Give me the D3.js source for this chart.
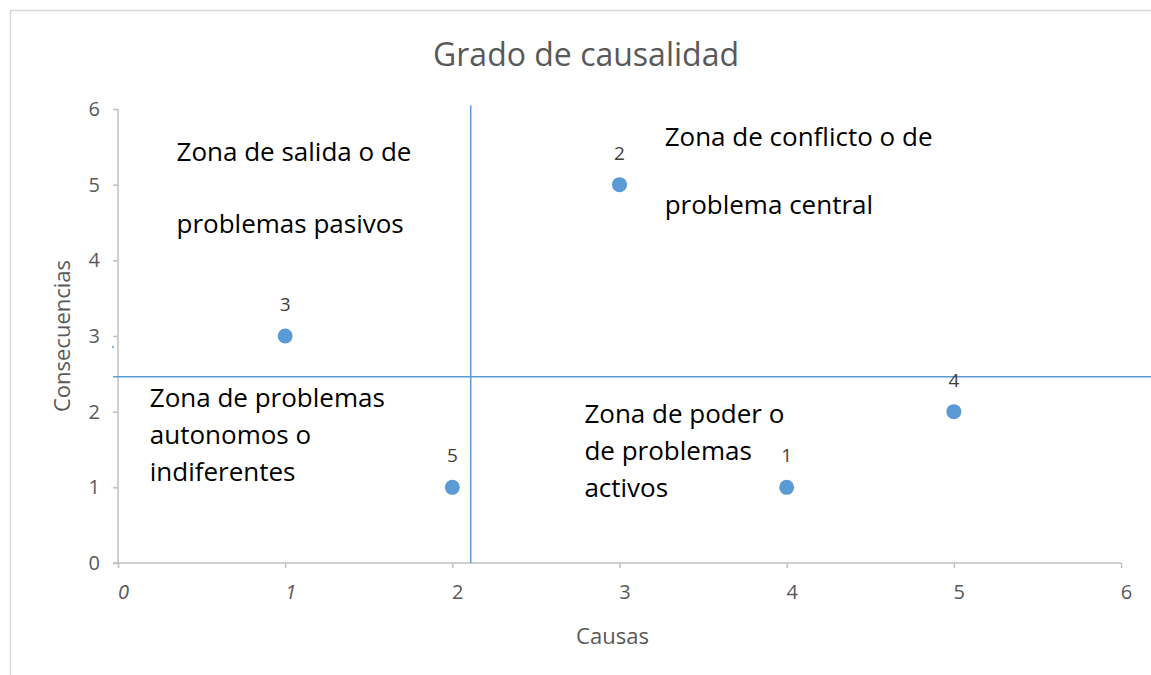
<!DOCTYPE html>
<html>
<head>
<meta charset="utf-8">
<script src="https://cdn.jsdelivr.net/npm/d3@7"></script>
<style>
  body { margin: 0; background: #fff; }
  svg { display: block; }
</style>
</head>
<body>
<script>
// problem points: causas (x), consecuencias (y), label
var causas = [4, 3, 1, 5, 2];
var consecuencias = [1, 5, 3, 2, 1];
var etiquetas = ['1', '2', '3', '4', '5'];
var xTicks = [0, 1, 2, 3, 4, 5, 6];
var yTicks = [0, 1, 2, 3, 4, 5, 6];
var italicTicks = [0, 1];

// quadrant dividers, in data units
var divX = 2.11;
var divY = 2.46;

// zone notes: anchor in data units, lines of text
var zoneX = [0.35, 3.27, 0.19, 2.79];
var zoneY = [5.31, 5.51, 2.06, 1.85];
var zoneText = [
  ['Zona de salida o de', 'problemas pasivos'],
  ['Zona de conflicto o de', 'problema central'],
  ['Zona de problemas', 'autonomos o', 'indiferentes'],
  ['Zona de poder o', 'de problemas', 'activos']
];
var zoneLead = [72, 68, 37, 37];

var screen = { width: 1151, height: 675 };
var margins = { top: 109, bottom: 112, left: 118, right: 30 };

var svg = d3.select('body').append('svg')
            .attr('width', screen.width)
            .attr('height', screen.height);

svg.append('rect')
   .attr('x', 10.5).attr('y', 10.5)
   .attr('width', 1300).attr('height', 800)
   .attr('fill', 'none')
   .attr('stroke', '#d9d9d9')
   .attr('stroke-width', 1.5);

var xScale = d3.scaleLinear()
               .domain([0, 6])
               .range([margins.left, screen.width - margins.right]);
var yScale = d3.scaleLinear()
               .domain([0, 6])
               .range([screen.height - margins.bottom, margins.top]);

var font = "'Open Sans', 'Noto Sans', sans-serif";

// title
svg.append('text')
   .attr('x', 586).attr('y', 66)
   .attr('text-anchor', 'middle')
   .attr('font-family', font)
   .attr('font-size', 32)
   .attr('fill', '#595959')
   .text('Grado de causalidad');

// y axis
var yAxis = d3.axisLeft(yScale).tickValues(yTicks).tickSize(5).tickPadding(13).tickFormat(d3.format('d'));
var gy = svg.append('g')
   .attr('transform', 'translate(' + margins.left + ',0)')
   .call(yAxis);
gy.select('.domain').attr('stroke', '#bfbfbf').attr('stroke-width', 1.5).attr('d', 'M0,' + yScale(6) + 'V' + yScale(0));
gy.selectAll('.tick line').attr('stroke', '#bfbfbf').attr('stroke-width', 1.5);
gy.selectAll('.tick text')
  .attr('font-family', font).attr('font-size', 20).attr('fill', '#595959');

// x axis
var xAxis = d3.axisBottom(xScale).tickValues(xTicks).tickSize(5).tickPadding(17).tickFormat(d3.format('d'));
var gx = svg.append('g')
   .attr('transform', 'translate(0,' + yScale(0) + ')')
   .call(xAxis);
gx.select('.domain').attr('stroke', '#bfbfbf').attr('stroke-width', 1.5).attr('d', 'M' + (xScale(0) - 5) + ',0H' + xScale(6));
gx.selectAll('.tick line').attr('stroke', '#bfbfbf').attr('stroke-width', 1.5);
gx.selectAll('.tick text')
  .attr('font-family', font).attr('font-size', 20).attr('fill', '#595959')
  .attr('dx', 5)
  .attr('font-style', function(d){ return italicTicks.indexOf(d) >= 0 ? 'italic' : 'normal'; });

// axis titles
svg.append('text')
   .attr('transform', 'translate(70,' + yScale(3) + ') rotate(-90)')
   .attr('text-anchor', 'middle')
   .attr('font-family', font).attr('font-size', 22).attr('fill', '#595959')
   .text('Consecuencias');
svg.append('text')
   .attr('x', xScale(3) - 7).attr('y', 644)
   .attr('text-anchor', 'middle')
   .attr('font-family', font).attr('font-size', 22).attr('fill', '#595959')
   .text('Causas');

// dividers
svg.append('line')
   .attr('x1', xScale(divX)).attr('x2', xScale(divX))
   .attr('y1', yScale(6.05)).attr('y2', yScale(0))
   .attr('stroke', '#5b9bd5').attr('stroke-width', 1.5);
svg.append('line')
   .attr('x1', xScale(-0.03)).attr('x2', xScale(6.3))
   .attr('y1', yScale(divY)).attr('y2', yScale(divY))
   .attr('stroke', '#5b9bd5').attr('stroke-width', 1.5);
svg.append('line')
   .attr('x1', xScale(-0.03)).attr('x2', xScale(-0.03))
   .attr('y1', yScale(2.87)).attr('y2', yScale(2.84))
   .attr('stroke', '#5b9bd5').attr('stroke-width', 1.5);

// zone notes
var zones = svg.selectAll('.zone')
   .data(zoneText)
   .enter()
   .append('text')
   .classed('zone', true)
   .attr('font-family', font).attr('font-size', 26).attr('fill', '#000');
zones.selectAll('tspan')
   .data(function(d, i){ return d.map(function(t){ return { t: t, i: i }; }); })
   .enter()
   .append('tspan')
   .attr('x', function(d){ return xScale(zoneX[d.i]); })
   .attr('y', function(d, j){ return yScale(zoneY[d.i]) + j * zoneLead[d.i]; })
   .text(function(d){ return d.t; });

// points
var pts = causas.map(function(c, i){ return { x: c, y: consecuencias[i], l: etiquetas[i] }; });
svg.selectAll('circle.pt')
   .data(pts)
   .enter()
   .append('circle')
   .classed('pt', true)
   .attr('cx', function(d){ return xScale(d.x); })
   .attr('cy', function(d){ return yScale(d.y); })
   .attr('r', 7.5)
   .attr('fill', '#5b9bd5');
svg.selectAll('text.lbl')
   .data(pts)
   .enter()
   .append('text')
   .classed('lbl', true)
   .attr('x', function(d){ return xScale(d.x); })
   .attr('y', function(d){ return yScale(d.y) - 25; })
   .attr('text-anchor', 'middle')
   .attr('font-family', font).attr('font-size', 19).attr('fill', '#404040')
   .text(function(d){ return d.l; });
</script>
</body>
</html>
